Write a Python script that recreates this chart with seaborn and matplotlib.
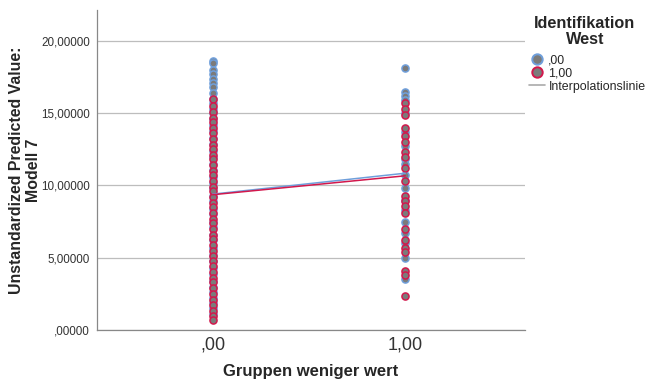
import pandas as pd
import seaborn as sns
from matplotlib import pyplot as plt
from matplotlib.lines import Line2D
from matplotlib.ticker import FuncFormatter

# Values (predicted value per group, split by West)
g0_blue = [18.6, 18.5, 18.0, 17.7, 17.4, 17.1, 16.8, 16.4, 16.0, 15.7, 15.3, 15.0, 14.6,
           14.2, 13.8, 13.3, 12.9, 12.4, 12.0, 11.5, 11.1, 10.6, 10.2, 9.8, 9.3, 8.9, 8.4,
           8.0, 7.5, 7.1, 6.6, 6.2, 5.7, 5.2, 4.8, 4.3, 3.9, 3.4, 3.0, 2.6, 2.2, 1.9, 1.5, 1.1]
g0_red = [16.0, 15.5, 15.1, 14.7, 14.4, 14.0, 13.6, 13.2, 12.8, 12.5, 12.1, 11.8, 11.4,
          11.0, 10.7, 10.3, 9.9, 9.6, 9.2, 8.8, 8.5, 8.1, 7.7, 7.4, 7.0, 6.6, 6.3, 5.9,
          5.5, 5.1, 4.8, 4.4, 4.0, 3.6, 3.3, 2.9, 2.5, 2.1, 1.7, 1.3, 1.0, 0.7]
g1_blue = [18.1, 16.5, 16.2, 15.9, 15.0, 13.7, 12.7, 11.8, 11.5, 10.7, 9.8, 9.0, 8.3,
           7.5, 6.7, 6.0, 5.0, 3.5]
g1_red = [15.7, 15.3, 14.9, 14.0, 13.4, 13.0, 12.3, 12.0, 11.2, 10.3, 9.3, 8.9, 8.6,
          8.1, 7.0, 6.2, 5.65, 5.4, 4.1, 3.8, 2.35]

groups = [0, 1]
group_labels = [",00", "1,00"]
line_blue = [9.40, 10.85]
line_red = [9.36, 10.67]
west_labels = [",00", "1,00"]

BLUE = "#6f9fdb"
RED = "#d2184c"
FILL = "#7b7b7b"

sns.set_style("white")
plt.rcParams['font.family'] = ['Liberation Sans', 'DejaVu Sans']

pts = pd.DataFrame({
    "x": [0] * len(g0_blue) + [1] * len(g1_blue) + [0] * len(g0_red) + [1] * len(g1_red),
    "y": g0_blue + g1_blue + g0_red + g1_red,
    "west": [",00"] * (len(g0_blue) + len(g1_blue)) + ["1,00"] * (len(g0_red) + len(g1_red)),
})

fig = plt.figure(figsize=(6.47, 3.8), dpi=100)
ax = fig.add_axes([0.150, 0.1316, 0.661, 0.8424])

for lab, edge in zip(west_labels, [BLUE, RED]):
    sub = pts[pts["west"] == lab]
    sns.scatterplot(data=sub, x="x", y="y", color=FILL, edgecolor=edge, linewidth=1.1,
                    s=26, ax=ax, legend=False, zorder=3)

sns.lineplot(x=groups, y=line_blue, color=BLUE, lw=1.1, ax=ax, zorder=4)
sns.lineplot(x=groups, y=line_red, color=RED, lw=1.1, ax=ax, zorder=4)

ax.set_xlim(-0.6, 1.62)
ax.set_ylim(0, 22.15)
ax.set_xticks(groups)
ax.set_xticklabels(group_labels, fontsize=13, color="#333333")
ax.set_yticks([0, 5, 10, 15, 20])
ax.yaxis.set_major_formatter(FuncFormatter(lambda v, p: ",00000" if v == 0 else f"{v:.5f}".replace(".", ",")))
ax.tick_params(axis='y', labelsize=8.4, colors="#333333", length=0, pad=5)
ax.tick_params(axis='x', length=0, pad=5)
ax.grid(axis='y', color="#bdbdbd", lw=0.9)
ax.set_axisbelow(True)
for s in ["top", "right"]:
    ax.spines[s].set_visible(False)
for s in ["left", "bottom"]:
    ax.spines[s].set_color("#888888")
    ax.spines[s].set_linewidth(0.9)

ax.set_xlabel("Gruppen weniger wert", fontsize=12, fontweight="bold", labelpad=7)
ax.set_ylabel("Unstandardized Predicted Value:\nModell 7", fontsize=11.4, fontweight="bold",
              linespacing=1.15)
ax.yaxis.set_label_coords(-0.131, 0.5)

fig.text(0.904, 0.959, "Identifikation\nWest", ha="center", va="top", fontsize=11.7,
         fontweight="bold", linespacing=1.1, multialignment="center")

handles = [
    Line2D([], [], marker="o", ls="", markerfacecolor=FILL, markeredgecolor=BLUE, markersize=7.5, markeredgewidth=1.4),
    Line2D([], [], marker="o", ls="", markerfacecolor=FILL, markeredgecolor=RED, markersize=7.5, markeredgewidth=1.4),
    Line2D([], [], color="#aaaaaa", lw=1.2),
]
fig.legend(handles, west_labels + ["Interpolationslinie"],
           loc="upper left", bbox_to_anchor=(0.817, 0.857), frameon=False,
           fontsize=8.9, handlelength=1.3, handletextpad=0.3, labelspacing=0.1,
           borderpad=0, borderaxespad=0)

fig.savefig("out.png", dpi=100)
